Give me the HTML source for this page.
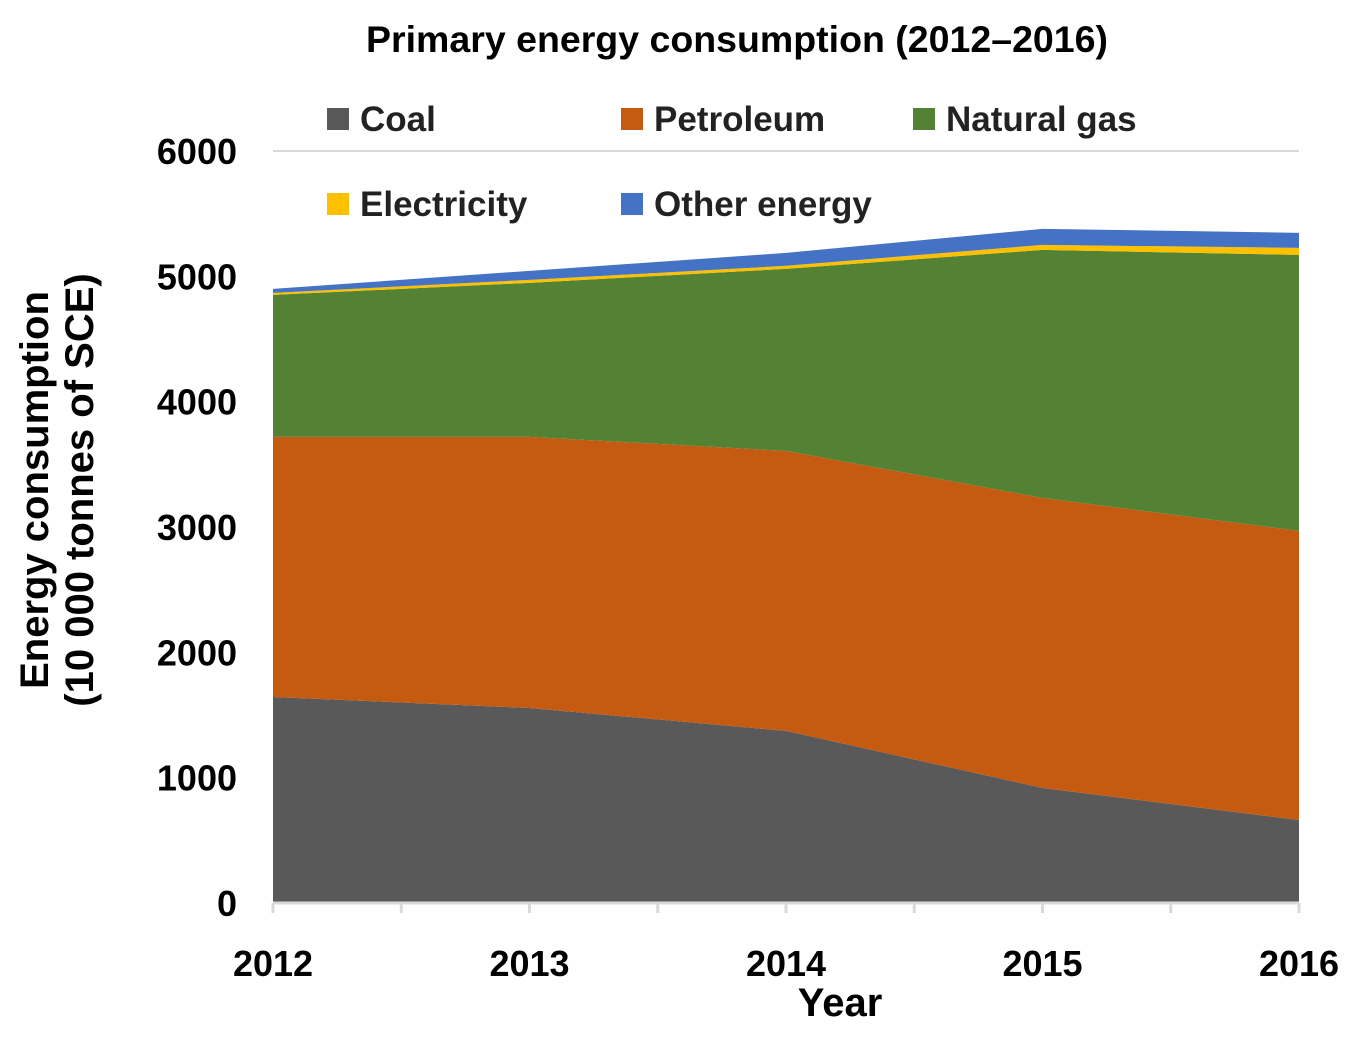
<!DOCTYPE html>
<html><head><meta charset="utf-8"><style>
body{margin:0;background:#fff;}
svg{display:block;font-family:"Liberation Sans",sans-serif;}
</style></head><body>
<svg id="chart" width="1358" height="1038">
<text x="737" y="52" text-anchor="middle" font-size="37.5" font-weight="bold">Primary energy consumption (2012–2016)</text>
<line x1="273" y1="151" x2="1299" y2="151" stroke="#d9d9d9" stroke-width="2"/>
<g id="areas"></g>
<g id="axes"></g>
<g id="legend"></g>
<text transform="translate(48,490) rotate(-90)" text-anchor="middle" font-size="40" font-weight="bold"><tspan x="0" dy="0">Energy consumption</tspan><tspan x="0" dy="45">(10 000 tonnes of SCE)</tspan></text>
<text x="840" y="1016" text-anchor="middle" font-size="40" font-weight="bold">Year</text>
</svg>
<script>
const years=["2012","2013","2014","2015","2016"];
const coal=[1644,1556,1373,918,662];
const petroleum=[2075,2163,2234,2314,2307];
const naturalGas=[1133,1229,1453,1979,2202];
const electricity=[16,24,24,40,56];
const otherEnergy=[32,72,103,128,120];
const yTicks=[0,1000,2000,3000,4000,5000,6000];
const seriesNames=["Coal","Petroleum","Natural gas","Electricity","Other energy"];
const NS="http://www.w3.org/2000/svg";
const colors=["#595959","#c55a11","#548235","#ffc000","#4472c4"];
const series=[coal,petroleum,naturalGas,electricity,otherEnergy];
const x=i=>273+i*(1299-273)/(years.length-1);
const y=v=>903-v*(903-151)/6000;
function el(t,a,p){const e=document.createElementNS(NS,t);for(const k in a)e.setAttribute(k,a[k]);p.appendChild(e);return e;}
const areas=document.getElementById('areas');
let base=years.map(()=>0);
series.forEach((s,si)=>{
  const top=base.map((b,i)=>b+s[i]);
  let d="M"+years.map((_,i)=>x(i)+","+y(top[i])).join(" L");
  for(let i=years.length-1;i>=0;i--)d+=" L"+x(i)+","+y(base[i]);
  const p=el('path',{d:d+"Z",fill:colors[si]},areas);
  
  
  base=top;
});
const ax=document.getElementById('axes');
const xl=el('line',{x1:273,y1:903,x2:1299,y2:903,stroke:"#d9d9d9","stroke-width":3},ax);


for(let k=0;k<=2*(years.length-1);k++){
  const xx=273+k*(1299-273)/(2*(years.length-1));
  const t=el('line',{x1:xx,y1:903,x2:xx,y2:913,stroke:"#d9d9d9","stroke-width":3},ax);
  
  
}
years.forEach((yr,i)=>{
  const t=el('text',{x:x(i),y:976,"text-anchor":"middle","font-size":36,"font-weight":"bold"},ax);
  t.textContent=yr;
  
  
});
yTicks.forEach(v=>{
  const t=el('text',{x:237,y:y(v)+13,"text-anchor":"end","font-size":36,"font-weight":"bold"},ax);
  t.textContent=v;
  
  
});
const lg=document.getElementById('legend');
const pos=[[327,119],[621,119],[913,119],[327,204],[621,204]];
seriesNames.forEach((n,i)=>{
  const g=el('g',{},lg);
  
  
  el('rect',{x:pos[i][0],y:pos[i][1]-11,width:22,height:22,fill:colors[i]},g);
  const t=el('text',{x:pos[i][0]+33,y:pos[i][1]+12,"font-size":35,"font-weight":"bold",fill:"#222"},g);
  t.textContent=n;
});
</script>
</body></html>
